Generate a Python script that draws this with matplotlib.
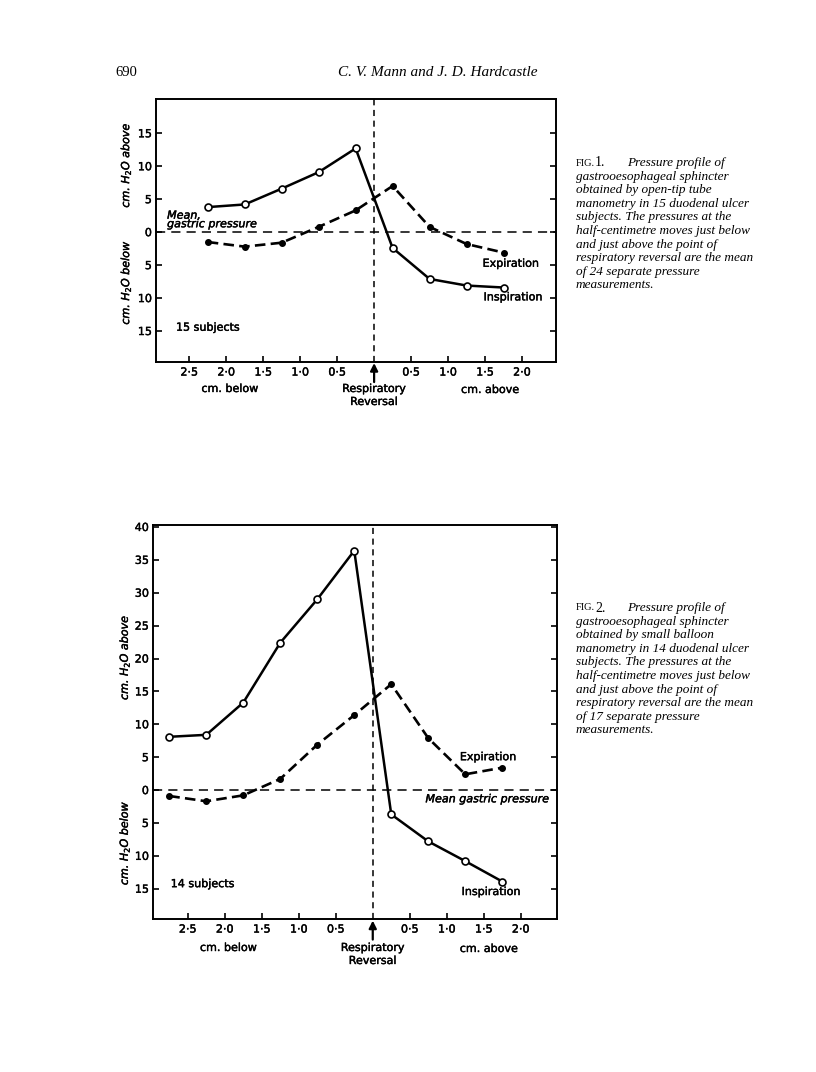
import matplotlib.pyplot as plt
import matplotlib.patheffects as pe

# ---- data ----
pos_1 = [-2.25, -1.75, -1.25, -0.75, -0.25, 0.25, 0.75, 1.25, 1.75]
insp_1 = [3.8, 4.2, 6.6, 9.1, 12.7, -2.4, -7.1, -8.1, -8.4]
exp_1 = [-1.5, -2.2, -1.6, 0.8, 3.3, 7.0, 0.8, -1.8, -3.1]

pos_2 = [-2.75, -2.25, -1.75, -1.25, -0.75, -0.25, 0.25, 0.75, 1.25, 1.75]
insp_2 = [8.1, 8.4, 13.3, 22.4, 29.0, 36.4, -3.7, -7.8, -10.8, -13.9]
exp_2 = [-0.9, -1.7, -0.8, 1.7, 6.9, 11.4, 16.1, 7.9, 2.4, 3.4]

xtick_pos = [-2.5, -2.0, -1.5, -1.0, -0.5, 0.5, 1.0, 1.5, 2.0]
xtick_lab = ['2·5', '2·0', '1·5', '1·0', '0·5', '0·5', '1·0', '1·5', '2·0']
ytick_1 = [-15, -10, -5, 0, 5, 10, 15]
ytick_2 = [-15, -10, -5, 0, 5, 10, 15, 20, 25, 30, 35, 40]

caption_1 = ['gastrooesophageal sphincter',
             'obtained by open-tip tube',
             'manometry in 15 duodenal ulcer',
             'subjects. The pressures at the',
             'half-centimetre moves just below',
             'and just above the point of',
             'respiratory reversal are the mean',
             'of 24 separate pressure',
             'measurements.']
caption_2 = ['gastrooesophageal sphincter',
             'obtained by small balloon',
             'manometry in 14 duodenal ulcer',
             'subjects. The pressures at the',
             'half-centimetre moves just below',
             'and just above the point of',
             'respiratory reversal are the mean',
             'of 17 separate pressure',
             'measurements.']

W, H = 816, 1072
fig = plt.figure(figsize=(W / 100, H / 100), dpi=100)
fig.patch.set_facecolor('white')

SANS = 'DejaVu Sans'
SERIF = 'Liberation Serif'
FS = 8
# slightly heavier strokes, like the printed lettering
heavy = [pe.withStroke(linewidth=0.3, foreground='k')]


def px(x, y):
    # pixel position on page -> figure fraction
    return x / W, 1 - y / H


def label(ax, x, y, s, **kw):
    kw.setdefault('ha', 'center')
    ax.text(x, y, s, fontsize=FS, family=SANS, va='center',
            path_effects=heavy, **kw)


def below(ax, x, s, dy):
    # text under the bottom spine, dy pixels down
    ax.annotate(s, xy=(x, 0), xycoords=('data', 'axes fraction'),
                xytext=(0, -dy * 0.72), textcoords='offset points',
                ha='center', va='center', fontsize=FS, family=SANS,
                path_effects=heavy)


def panel(rect, pos, insp, exp, ylim, yticks, xlim, dy):
    ax = fig.add_axes(rect)
    for s in ax.spines.values():
        s.set_linewidth(1.4)
    ax.set_xlim(*xlim)
    ax.set_ylim(*ylim)

    ax.axhline(0, color='k', lw=1.1, ls=(0, (6, 4)))
    ax.axvline(0, color='k', lw=1.1, ls=(0, (4, 3)))

    ax.plot(pos, exp, color='k', lw=1.9, ls=(0, (4, 2)),
            marker='o', ms=4, mfc='k', mec='k')
    ax.plot(pos, insp, color='k', lw=1.8, ls='-',
            marker='o', ms=5, mfc='white', mec='k', mew=1.2)

    ax.set_xticks(xtick_pos)
    ax.set_xticklabels(xtick_lab)
    ax.set_yticks(yticks)
    ax.set_yticklabels([str(abs(v)) for v in yticks])
    ax.tick_params(axis='both', direction='in', length=4, width=1.2,
                   labelsize=FS, pad=4)
    ax.tick_params(axis='y', right=True, pad=3)
    for t in ax.get_xticklabels() + ax.get_yticklabels():
        t.set_family(SANS)
        t.set_path_effects(heavy)

    # arrow at respiratory reversal
    ax.annotate('', xy=(0, -0.004), xycoords=('data', 'axes fraction'),
                xytext=(0, -19 * 0.72), textcoords='offset points',
                arrowprops=dict(arrowstyle='-|>', color='k', lw=1.6,
                                mutation_scale=11, shrinkA=0, shrinkB=0))
    below(ax, -1.95, 'cm. below', dy)
    below(ax, 0, 'Respiratory', dy)
    below(ax, 0, 'Reversal', dy + 13)
    below(ax, 1.57, 'cm. above', dy + 1)
    return ax


def ylabels(ax, xa, y_above, y_below):
    tr = ax.get_yaxis_transform()
    for y, s in [(y_above, r'cm. $H_2O$ above'), (y_below, r'cm. $H_2O$ below')]:
        ax.text(xa, y, s, transform=tr, rotation=90, style='italic',
                fontsize=FS, family=SANS, ha='center', va='center',
                path_effects=heavy)


# ---- figure 1 ----
ax1 = panel([156 / W, 1 - 362 / H, 400 / W, 263 / H], pos_1, insp_1, exp_1,
            (-19.7, 20.2), ytick_1, (-2.95, 2.46), 27)
label(ax1, -2.8, 2.5, 'Mean.', style='italic', ha='left')
label(ax1, -2.8, 1.2, 'gastric pressure', style='italic', ha='left')
label(ax1, 1.85, -4.8, 'Expiration')
label(ax1, 1.88, -9.9, 'Inspiration')
label(ax1, -2.25, -14.5, '15 subjects')
ylabels(ax1, -0.075, 10.2, -7.6)

# ---- figure 2 ----
ax2 = panel([153 / W, 1 - 919 / H, 404 / W, 394 / H], pos_2, insp_2, exp_2,
            (-19.6, 40.3), ytick_2, (-2.97, 2.49), 29)
label(ax2, 1.55, -1.4, 'Mean gastric pressure', style='italic')
label(ax2, 1.56, 5.0, 'Expiration')
label(ax2, 1.6, -15.5, 'Inspiration')
label(ax2, -2.3, -14.3, '14 subjects')
ylabels(ax2, -0.07, 20.2, -8.0)

# ---- page header ----
fig.text(*px(115, 73), '690', family=SERIF, fontsize=10.5, va='center')
fig.text(*px(438, 73), 'C. V. Mann and J. D. Hardcastle', family=SERIF,
         style='italic', fontsize=11, ha='center', va='center')


# ---- captions ----
def caption(y0, num, lines):
    fig.text(*px(576, y0), 'FIG.', family=SERIF, fontsize=7.5, va='center')
    fig.text(*px(595, y0), num, family=SERIF, fontsize=10, va='center')
    fig.text(*px(627, y0), 'Pressure profile of', family=SERIF,
             style='italic', fontsize=9.5, va='center')
    for i, s in enumerate(lines):
        fig.text(*px(576, y0 + 13.6 * (i + 1)), s, family=SERIF,
                 style='italic', fontsize=9.5, va='center')


caption(163, '1.', caption_1)
caption(608, '2.', caption_2)

fig.savefig('out.png', dpi=100, facecolor='white')
